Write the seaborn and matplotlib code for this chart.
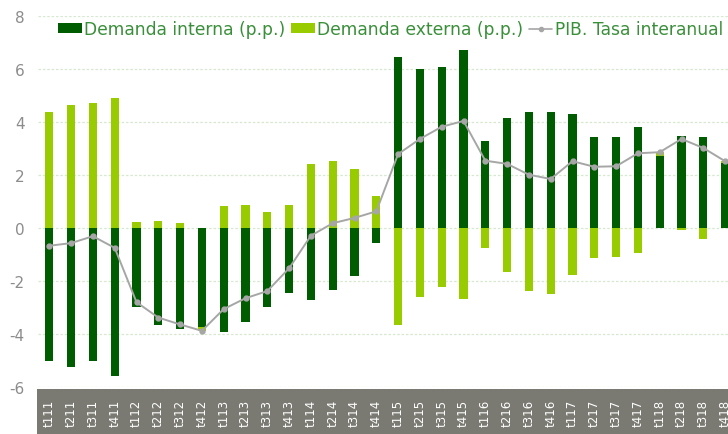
"""
Contribuciones al crecimiento del PIB: demanda interna y externa (p.p.)
con la tasa interanual del PIB superpuesta.
"""

import matplotlib
matplotlib.use('Agg')
import matplotlib.pyplot as plt
import numpy as np
import pandas as pd
import seaborn as sns
from matplotlib.lines import Line2D
from matplotlib.patches import Patch, Rectangle

COLORS = {
    'interna': '#005c00',
    'externa': '#99cc00',
    'pib': '#a6a6a6',
    'text': '#3a8f3a',
    'tick': '#8c8c8c',
    'grid': '#d6e8cf',
    'band': '#7a7a72',
}

# quarters t111 .. t418
quarters = [f"t{q}{yy}" for yy in range(11, 19) for q in range(1, 5)]

demanda_interna = [-5.03, -5.26, -5.00, -5.58, -2.99, -3.66, -3.80, -3.72,
                   -3.91, -3.53, -2.98, -2.44, -2.70, -2.34, -1.82, -0.58,
                   6.47, 5.99, 6.06, 6.73, 3.29, 4.14, 4.39, 4.37,
                   4.30, 3.45, 3.45, 3.82, 2.73, 3.47, 3.44, 2.45]

demanda_externa = [4.37, 4.64, 4.70, 4.89, 0.24, 0.26, 0.19, -0.15,
                   0.84, 0.87, 0.59, 0.87, 2.42, 2.52, 2.23, 1.22,
                   -3.65, -2.59, -2.23, -2.68, -0.74, -1.67, -2.38, -2.50,
                   -1.76, -1.14, -1.08, -0.96, 0.12, -0.09, -0.41, 0.07]

pib_interanual = [-0.67, -0.57, -0.31, -0.75, -2.80, -3.38, -3.64, -3.88,
                  -3.06, -2.65, -2.38, -1.52, -0.29, 0.18, 0.38, 0.63,
                  2.79, 3.36, 3.82, 4.04, 2.54, 2.42, 2.01, 1.85,
                  2.52, 2.31, 2.33, 2.82, 2.86, 3.36, 3.02, 2.52]

y_ticks = [-6, -4, -2, 0, 2, 4, 6, 8]

df = pd.DataFrame({
    'trimestre': quarters,
    'interna': demanda_interna,
    'externa': demanda_externa,
    'pib': pib_interanual,
})
# external bar stacks on the internal one when both share sign
same_sign = np.sign(df['interna']) == np.sign(df['externa'])
df['base_externa'] = np.where(same_sign, df['interna'], 0.0)

sns.set_style('white')
plt.rcParams['font.family'] = ['DejaVu Sans']

fig = plt.figure(figsize=(7.28, 4.35), dpi=100)
ax = fig.add_axes([38.4 / 728, 47 / 435, 697.6 / 728, 371 / 435])

# grey band under the category axis (behind the axes so labels show)
fig.patches.append(Rectangle((37 / 728, 0), 1, 45 / 435, transform=fig.transFigure,
                             facecolor=COLORS['band'], edgecolor='none', zorder=-1))
ax.patch.set_alpha(0)

sns.barplot(data=df, x='trimestre', y='interna', order=quarters, color=COLORS['interna'],
            saturation=1, width=0.38, linewidth=0, ax=ax, zorder=2)
sns.barplot(data=df, x='trimestre', y='externa', order=quarters, color=COLORS['externa'],
            saturation=1, width=0.38, linewidth=0, bottom=df['base_externa'].to_numpy(),
            ax=ax, zorder=2)
sns.pointplot(data=df, x='trimestre', y='pib', order=quarters, color=COLORS['pib'],
              markers='o', markersize=3.5, linewidth=1.4, errorbar=None, ax=ax)
for coll in ax.lines:
    coll.set_zorder(3)

ax.set_ylim(-6, 8)
ax.set_xlim(-0.5, len(quarters) - 0.5)
ax.set_yticks(y_ticks)
ax.set_yticklabels([str(t) for t in y_ticks])
ax.set_xlabel('')
ax.set_ylabel('')
ax.yaxis.grid(True, color=COLORS['grid'], linestyle=(0, (2, 1.5)), linewidth=0.9, zorder=0)
ax.set_axisbelow(True)
for side in ['top', 'right', 'left', 'bottom']:
    ax.spines[side].set_visible(False)
ax.tick_params(axis='y', length=0, pad=10, labelsize=11, labelcolor=COLORS['tick'])
ax.tick_params(axis='x', length=0, pad=8.5, labelsize=8.5, labelcolor='white', rotation=90)

handles = [
    Patch(facecolor=COLORS['interna'], edgecolor='none', label='Demanda interna (p.p.)'),
    Patch(facecolor=COLORS['externa'], edgecolor='none', label='Demanda externa (p.p.)'),
    Line2D([0], [0], color=COLORS['pib'], marker='o', markersize=3, linewidth=1.2,
           label='PIB. Tasa interanual'),
]
leg = ax.legend(handles=handles, ncol=3, loc='center left', frameon=False,
                bbox_to_anchor=(58 / 728, 1 - 30 / 435), bbox_transform=fig.transFigure,
                fontsize=12.3, handlelength=1.4, handleheight=0.45, handletextpad=0.15,
                columnspacing=0.3, borderpad=0, borderaxespad=0)
for text in leg.get_texts():
    text.set_color(COLORS['text'])

fig.savefig('out.png', dpi=100, facecolor='white')
